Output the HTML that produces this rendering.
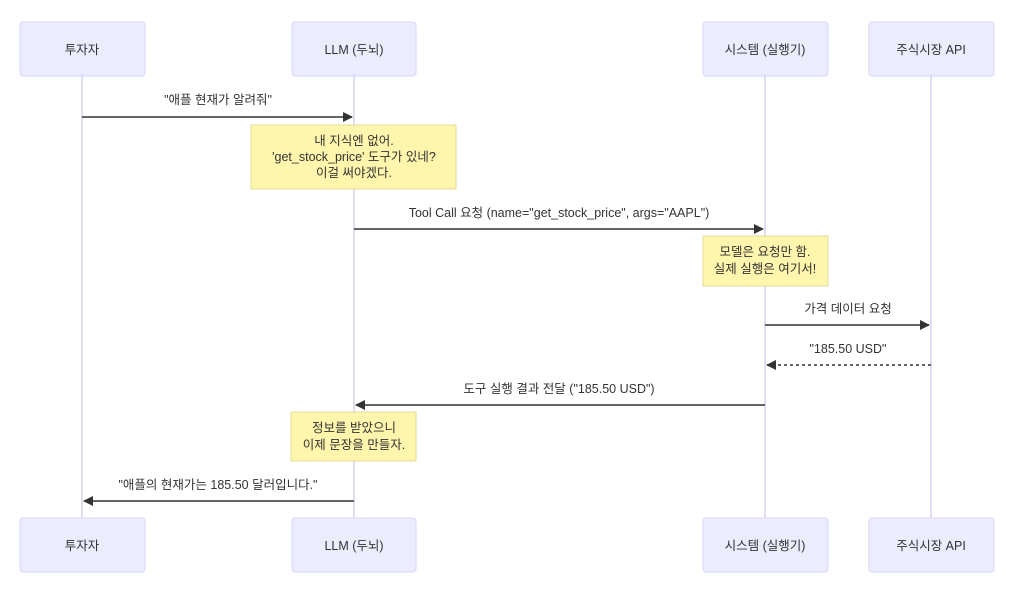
<!DOCTYPE html>
<html><head><meta charset="utf-8"><style>
html,body{margin:0;padding:0;background:#fff;}
text{font-family:"Liberation Sans","Noto Sans CJK KR",sans-serif;font-size:12.5px;fill:#333;}
.a{fill:#ECECFF;stroke:#d8d6f5;stroke-width:1;}
.n{fill:#fff5ad;stroke:#e0dc9a;stroke-width:1;}
.l{stroke:#d6d0ef;stroke-width:1.5;}
.m{stroke:#333;stroke-width:1.5;fill:none;}
</style></head><body>
<svg width="1022" height="595" xmlns="http://www.w3.org/2000/svg">
<defs><marker id="ah" markerWidth="10" markerHeight="10" refX="9" refY="5" orient="auto" markerUnits="userSpaceOnUse"><path d="M0,0 L10,5 L0,10 z" fill="#333"/></marker></defs>
<line class="l" x1="82" y1="76" x2="82" y2="518"/>
<line class="l" x1="354" y1="76" x2="354" y2="518"/>
<line class="l" x1="765" y1="76" x2="765" y2="518"/>
<line class="l" x1="931" y1="76" x2="931" y2="518"/>
<g text-anchor="middle">
<rect class="a" x="20" y="22" width="125" height="54" rx="3"/><text x="82" y="54">투자자</text>
<rect class="a" x="292" y="22" width="124" height="54" rx="3"/><text x="354" y="54">LLM (두뇌)</text>
<rect class="a" x="703" y="22" width="125" height="54" rx="3"/><text x="765" y="54">시스템 (실행기)</text>
<rect class="a" x="869" y="22" width="125" height="54" rx="3"/><text x="931" y="54">주식시장 API</text>
<rect class="a" x="20" y="518" width="125" height="54" rx="3"/><text x="82" y="550">투자자</text>
<rect class="a" x="292" y="518" width="124" height="54" rx="3"/><text x="354" y="550">LLM (두뇌)</text>
<rect class="a" x="703" y="518" width="125" height="54" rx="3"/><text x="765" y="550">시스템 (실행기)</text>
<rect class="a" x="869" y="518" width="125" height="54" rx="3"/><text x="931" y="550">주식시장 API</text>

<text x="218" y="104">"애플 현재가 알려줘"</text>
<line class="m" x1="82" y1="117" x2="352" y2="117" marker-end="url(#ah)"/>
<rect class="n" x="251" y="125" width="205" height="64"/>
<text x="354" y="145">내 지식엔 없어.</text>
<text x="354" y="161">'get_stock_price' 도구가 있네?</text>
<text x="354" y="177">이걸 써야겠다.</text>

<text x="559" y="217">Tool Call 요청 (name="get_stock_price", args="AAPL")</text>
<line class="m" x1="354" y1="229" x2="763" y2="229" marker-end="url(#ah)"/>
<rect class="n" x="703" y="236" width="125" height="50"/>
<text x="765" y="256">모델은 요청만 함.</text>
<text x="765" y="273">실제 실행은 여기서!</text>

<text x="848" y="313">가격 데이터 요청</text>
<line class="m" x1="765" y1="325" x2="929" y2="325" marker-end="url(#ah)"/>
<text x="848" y="353">"185.50 USD"</text>
<line class="m" x1="931" y1="365" x2="767" y2="365" stroke-dasharray="3,3" marker-end="url(#ah)"/>
<text x="559" y="393">도구 실행 결과 전달 ("185.50 USD")</text>
<line class="m" x1="765" y1="405" x2="356" y2="405" marker-end="url(#ah)"/>
<rect class="n" x="291" y="412" width="125" height="49"/>
<text x="354" y="432">정보를 받았으니</text>
<text x="354" y="449">이제 문장을 만들자.</text>
<text x="218" y="489">"애플의 현재가는 185.50 달러입니다."</text>
<line class="m" x1="354" y1="501" x2="84" y2="501" marker-end="url(#ah)"/>
</g>
</svg>
</body></html>
